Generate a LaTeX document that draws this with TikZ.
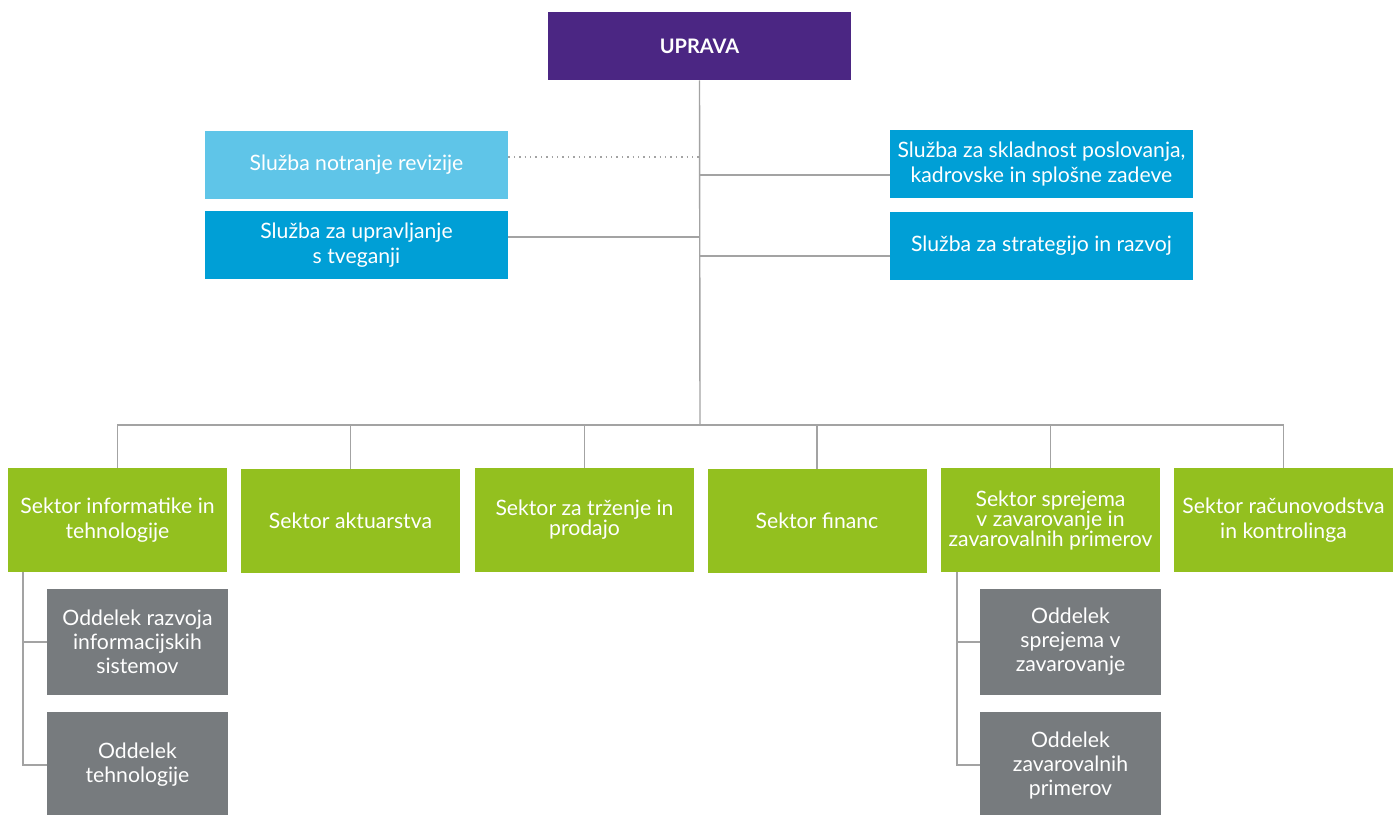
\documentclass[tikz,border=0pt]{standalone}
\usepackage{fontspec}
\setmainfont{Lato}
\definecolor{cpurple}{HTML}{4B2683}
\definecolor{clight}{HTML}{5FC5E8}
\definecolor{cblue}{HTML}{009FD6}
\definecolor{cgreen}{HTML}{93C01F}
\definecolor{cgray}{HTML}{777B7E}
\definecolor{cline}{HTML}{A3A3A3}
\begin{document}
\begin{tikzpicture}[x=0.5pt,y=-0.5pt,
  box/.style={inner sep=0pt, align=center, text=white, font=\fontsize{10.6}{12.5}\selectfont},
  topbox/.style={box, fill=cpurple, minimum width=151.5pt, minimum height=34pt, font=\fontsize{10}{12.5}\selectfont\bfseries},
  sluzba/.style={box, fill=cblue, minimum width=151.5pt, minimum height=34pt},
  sektor/.style={box, fill=cgreen, minimum width=109.5pt, minimum height=52pt},
  oddelek/.style={box, fill=cgray, minimum width=90.5pt, minimum height=53pt, font=\fontsize{10.6}{12}\selectfont},
  conn/.style={draw=cline, line width=0.7pt},
  dotconn/.style={conn, dotted, line width=0.6pt}
]
\useasboundingbox (0,0) rectangle (1400,814);
\begin{scope}
\clip (0,0) rectangle (1400,814);
\node[topbox] (uprava) at (699.5,46) {UPRAVA};
\node[sluzba, fill=clight] (revizija) at (356.5,165) {Služba notranje revizije};
\node[sluzba] (tveganja) at (356.5,245) {Služba za upravljanje\\s tveganji};
\node[sluzba] (skladnost) at (1041.5,164) {Služba za skladnost poslovanja,\\kadrovske in splošne zadeve};
\node[sluzba] (strategija) at (1041.5,246) {Služba za strategijo in razvoj};

\node[sektor] (s1) at (117.5,520) {Sektor informatike in\\tehnologije};
\node[sektor] (s2) at (350.5,521) {Sektor aktuarstva};
\node[sektor, font=\fontsize{10.6}{10}\selectfont] (s3) at (584.5,520) {Sektor za trženje in\\prodajo};
\node[sektor] (s4) at (817,521) {Sektor financ};
\node[sektor, font=\fontsize{10.6}{10}\selectfont] (s5) at (1050.5,520) {Sektor sprejema\\v zavarovanje in\\zavarovalnih primerov};
\node[sektor] (s6) at (1283.5,520) {Sektor računovodstva\\in kontrolinga};

\node[oddelek] (o1) at (137.5,642) {Oddelek razvoja\\informacijskih\\sistemov};
\node[oddelek] (o2) at (137.5,765) {Oddelek\\tehnologije};
\node[oddelek] (o3) at (1070.5,642) {Oddelek\\sprejema v\\zavarovanje};
\node[oddelek] (o4) at (1070.5,765) {Oddelek\\zavarovalnih\\primerov};
\end{scope}

\coordinate (bar) at (700,425);
\coordinate (jrev) at (700,157);
\coordinate (jskl) at (700,175);
\coordinate (jtve) at (700,237);
\coordinate (jstr) at (700,256);
\coordinate (lx) at (23,0);
\coordinate (rx) at (957,0);

\draw[conn] (uprava.south) -- (bar);
\draw[dotconn] (revizija.east |- jrev) -- (jrev);
\draw[conn] (jskl) -- (skladnost.west |- jskl);
\draw[conn] (tveganja.east |- jtve) -- (jtve);
\draw[conn] (jstr) -- (strategija.west |- jstr);
\draw[conn] (s1.north) -- (s1.north |- bar) -- (s6.north |- bar) -- (s6.north);
\foreach \s in {s2,s3,s4,s5} \draw[conn] (\s.north) -- (\s.north |- bar);
\draw[conn] (lx |- s1.south) -- (lx |- o2.west) -- (o2.west);
\draw[conn] (lx |- o1.west) -- (o1.west);
\draw[conn] (rx |- s5.south) -- (rx |- o4.west) -- (o4.west);
\draw[conn] (rx |- o3.west) -- (o3.west);
\end{tikzpicture}
\end{document}
